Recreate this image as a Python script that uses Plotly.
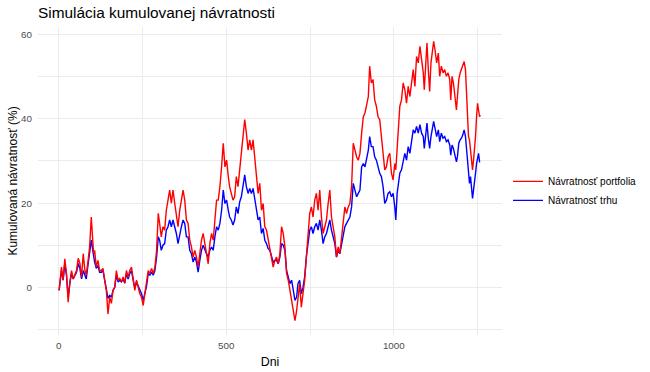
import plotly.graph_objects as go

# Days (x) at which values were read
days = [1, 8, 13, 18, 23, 28, 33, 38, 43, 48, 53, 58, 63, 68, 73, 78, 82, 87, 92, 97,
        100, 104, 107, 112, 117, 122, 127, 132, 137, 142, 147, 152, 157, 162, 167, 172, 177, 182, 187, 192,
        197, 202, 207, 212,
        217, 222, 227, 232, 237, 242, 247, 252, 257, 262, 267, 272, 277, 282, 287, 292, 297, 301, 306, 311,
        316, 321, 326, 331, 336, 341, 346, 351, 356, 361, 366, 371, 376, 381, 386, 391, 396, 401, 406, 411,
        416, 421, 426, 431, 436,
        441, 446, 451, 456, 461, 466, 471, 476, 481, 486, 491, 496, 501, 506, 510, 515, 520, 525, 530, 535,
        540, 545, 550, 555, 560, 565, 570, 575, 580, 585, 590, 595, 600, 605, 610, 615, 620, 625, 630, 635,
        640, 645,
        650, 655, 660, 665, 670, 675, 680, 685, 690, 695, 700, 705, 710, 714, 719, 724, 729, 734, 739, 744,
        749, 754, 759, 764, 769, 774, 779, 784, 789, 794, 799, 804, 809, 814, 819, 824, 829, 834, 839, 844,
        849, 854,
        859, 864, 869, 874, 879, 884, 889, 894, 899, 904, 909, 914, 919, 924, 928, 933, 938, 943, 948, 953,
        958, 963, 968, 973, 978, 983, 988, 993, 998, 1003, 1006, 1010, 1013, 1018, 1023, 1028, 1033, 1038,
        1043, 1048, 1053, 1058, 1063,
        1068, 1073, 1078, 1083, 1088, 1091, 1095, 1099, 1103, 1107, 1111, 1115, 1119, 1123, 1128, 1133,
        1137, 1142, 1147, 1152, 1157, 1162, 1167, 1170, 1174, 1178, 1182, 1187, 1190, 1194, 1198, 1202,
        1206, 1210, 1214, 1217, 1220, 1223, 1226, 1229, 1232, 1235, 1238, 1241, 1244, 1247, 1250, 1253,
        1256, 1258]

portfolio = [-0.7, 4.8, 1.7, 6.8, 3.3, -3.5, 1, 4, 2, 3.3, 4, 6.9, 5.7, 2.4, 8, 4, 2.9, 6, 9.5, 16.7,
             13.6, 8, 8.8, 4.8, 6.4, 4, 4, 4.5, 1.7, -0.7, -6.3, -2.3, -3.8, -0.7, 0, 4, 1.7, 2.1, 1.3, 2.5,
             1, 4, 2.4, 4,
             4.8, 1.7, -0.7, 1.7, 0, -1.5, -2.3, -4.3, -1.5, 1, 4, 3.3, 4.5, 3.3, 4.8, 8.8, 17.6, 15.2, 12, 14.4,
             13.6, 18.3, 20.7, 23.1, 20, 23.1, 20, 17.6, 14.4, 18.3, 20.7, 23.1, 20.7, 16, 15.2, 11.2, 9.6, 7.2, 8.8, 7.2,
             4.8, 8.8, 11.2, 12.8, 10.4,
             8.8, 5.6, 10.4, 12.8, 11.2, 16.7, 20.7, 20.7, 23.9, 28.6, 34.2, 28.6, 30.2, 26.3, 23.9, 22.3, 20.7, 21.5, 26.3, 23.9,
             27.9, 31.8, 34.2, 39.8, 36.6, 32.6, 35, 32.6, 35, 30.2, 27.1, 22.3, 24.7, 18.3, 19.9, 14.4, 13.6, 11.2, 9.6, 7.2,
             4.8, 6.4,
             7.2, 5.6, 8, 14.4, 12.8, 9.6, 3.3, 1.7, -0.7, -3.1, -4.7, -7.9, -5.5, -2.3, 0.9, -4.7, -1.5, 1.7, 7.2, 12,
             17.5, 19.1, 16.7, 20.7, 22.3, 18.3, 23.1, 16.7, 12.8, 14.4, 16, 19.9, 23.1, 16.7, 14.4, 12, 7.2, 9.6, 8, 12,
             16.7, 19.1,
             17.5, 19.1, 19.9, 23.9, 34.2, 32.6, 31, 30.2, 31.8, 36.6, 40.5, 41.4, 43, 45.3, 52.5, 48.5, 49.3, 44.5, 43, 40.5,
             39.8, 35.8, 31.8, 27.9, 28.6, 31, 31.8, 27.1, 25.5, 29.4, 27.9, 33, 39, 43, 44.5, 48.5, 46.9, 43.7,
             47.7, 45.3, 48.5, 51.7, 47.7,
             54.8, 53.3, 57.2, 54.1, 50.9, 46.9, 52.5, 58, 51.7, 46.5, 53.3, 55.6, 58.4, 56.4, 53.3, 55.6,
             50.1, 52.5, 50.9, 51.7, 50.1, 50.9, 49.3, 44.5, 50.1, 48.5, 45.3, 42.1, 45.3, 49.3, 50.9, 51.7,
             52.5, 53.6, 51.7, 45.3, 38.9, 35.8, 35, 32.6, 31, 27.9, 30.2, 32.6, 35.8, 40.5, 43.7, 42.1,
             40.5, 40.9]

market = [-0.7, 4, 1.7, 5.7, 2.9, -2.3, 1, 3.3, 2, 2.9, 3.6, 5.7, 4.5, 2, 4, 2.9, 2, 5.2, 8, 11.2,
          9.6, 7.2, 6, 4.5, 5.2, 3.6, 3.6, 4, 2, -0.2, -2.6, -1.9, -2.3, -0.7, 0, 2.9, 1.3, 1.7, 1.3, 2,
          1, 3.3, 2, 3.3,
          4, 1.7, -0.2, 1.3, 0.3, -0.7, -1.5, -3.1, -1.1, 0.3, 3.3, 2.9, 3.6, 2.9, 4, 7.2, 12, 11.2, 8.8, 10,
          10.4, 13.6, 14.4, 16, 14.4, 16, 14.4, 12.8, 10.4, 12.8, 14.4, 16, 15.2, 12, 12, 8.8, 8, 6, 7.2, 6,
          3.6, 6.4, 8.8, 10, 8.8,
          8, 7.2, 8.8, 9.6, 8.8, 12, 14.4, 13.6, 15.2, 18.3, 23.1, 19.9, 20.7, 18.3, 16.7, 16, 14.8, 16, 19.1, 17.5,
          20.3, 21.5, 23.9, 26.7, 23.9, 22.3, 23.5, 22.3, 23.5, 20.7, 18.3, 16, 16.7, 12.8, 14, 11.2, 10.4, 9.2, 8.8, 7.2,
          6, 6.4,
          6.4, 5.6, 7.2, 10.4, 10, 8.8, 4, 2.5, 0.9, 1.7, -0.7, -3.1, -2.3, 0.9, 1.7, -1.5, 0, 2.5, 7.2, 10.4,
          13.6, 14.4, 12.8, 14.4, 15.2, 13.6, 16, 13.6, 10.4, 12, 12.8, 14.4, 16, 13.6, 12, 10.4, 7.2, 8.8, 8, 10.4,
          12.8, 14.4,
          15.2, 16, 16.7, 19.1, 24.7, 23.1, 21.5, 22.3, 23.1, 28.6, 29.4, 28.6, 31, 32.6, 35.8, 33.4, 33.4, 31, 30.2, 28.6,
          27.1, 26.3, 23.9, 19.9, 20.7, 22.3, 22.7, 21.5, 22.3, 19.1, 16, 22.3, 24.7, 27.1, 27.9, 30.2, 31.8, 30.2,
          33.4, 31.8, 35, 37.4, 36.6,
          38.2, 36.6, 38.6, 36.6, 35.8, 33, 36.6, 39, 35.4, 33, 35.8, 37.4, 39.4, 37.8, 35.8, 37.4,
          34.6, 36.6, 35.4, 35.8, 34.6, 35, 33.8, 31.4, 33.8, 33, 31.4, 29.8, 31, 34.2, 35, 35.4,
          36.2, 37.4, 35.8, 32.6, 29.4, 26.3, 24.7, 26.3, 23.1, 21.1, 23.1, 24.7, 27.1, 29.4, 31, 31.8,
          29.8, 29.8]

series_names = ["Návratnosť portfolia", "Návratnosť trhu"]
x_ticks = [0, 500, 1000]
y_ticks = [0, 20, 40, 60]

FONT = "Liberation Sans, Arial, sans-serif"
GRID = "#EBEBEB"

fig = go.Figure()
fig.add_trace(go.Scatter(x=days, y=market, mode="lines", name=series_names[1],
                         line=dict(color="#0000FF", width=1.4), legendrank=2))
fig.add_trace(go.Scatter(x=days, y=portfolio, mode="lines", name=series_names[0],
                         line=dict(color="#FF0000", width=1.4), legendrank=1))

fig.update_layout(
    width=650, height=372,
    margin=dict(l=38, r=148, t=27, b=37),
    paper_bgcolor="white", plot_bgcolor="white",
    font=dict(family=FONT, color="#000000"),
    title=dict(text="Simulácia kumulovanej návratnosti", font=dict(size=15.4, color="#000000"),
               x=0, xref="paper", xanchor="left", y=1 - 13 / 372, yref="container", yanchor="middle"),
    legend=dict(x=508 / 650, xref="container", y=0.468, xanchor="left", yanchor="middle",
                font=dict(size=10, color="#000000"), bgcolor="rgba(0,0,0,0)", tracegroupgap=0),
    showlegend=True,
)
fig.update_xaxes(range=[-62, 1323], tickvals=x_ticks, ticktext=[str(v) for v in x_ticks],
                 showgrid=True, gridcolor=GRID, gridwidth=1.1, zeroline=False, showline=False,
                 tickfont=dict(size=9.8, color="#4D4D4D"), ticklabelstandoff=3,
                 minor=dict(tickvals=[250, 750, 1250], showgrid=True, gridcolor=GRID, gridwidth=0.55),
                 title=dict(text="Dni", font=dict(size=12.4, color="#000000"), standoff=7),
                 automargin=False)
fig.update_yaxes(range=[-11.3, 61.8], tickvals=y_ticks, ticktext=[str(v) for v in y_ticks],
                 showgrid=True, gridcolor=GRID, gridwidth=1.1, zeroline=False, showline=False,
                 tickfont=dict(size=9.8, color="#4D4D4D"), ticklabelstandoff=5,
                 minor=dict(tickvals=[-10, 10, 30, 50], showgrid=True, gridcolor=GRID, gridwidth=0.55),
                 title=dict(text="Kumulovaná návratnosť (%)", font=dict(size=12, color="#000000"), standoff=0),
                 automargin=False)

fig.write_html("out.html", config={"displayModeBar": False},
               post_script="document.body.style.margin='0';document.body.style.overflow='hidden';")
